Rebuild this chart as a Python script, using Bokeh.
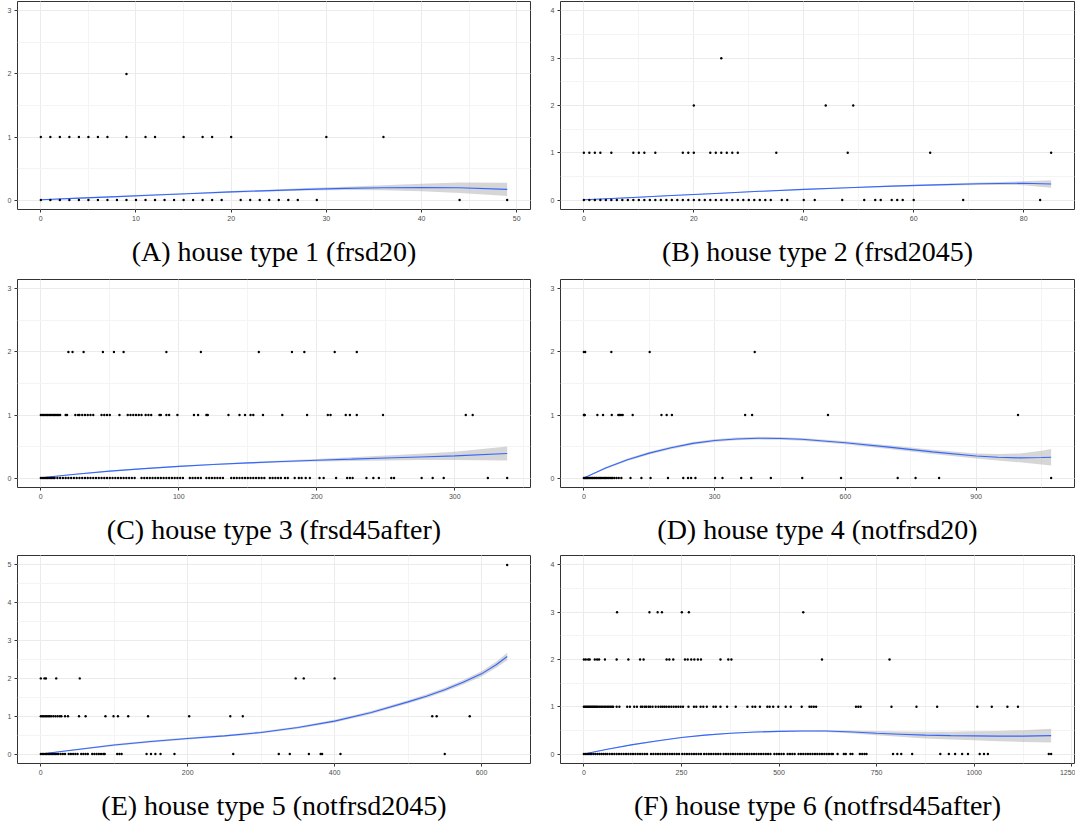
from bokeh.plotting import figure
from bokeh.models import Range1d, SingleIntervalTicker, Title
from bokeh.layouts import column, row
from bokeh.embed import file_html
from bokeh.resources import INLINE

# ---------------------------------------------------------------------------
# Observed counts: x positions of the observations at each integer count level
# ---------------------------------------------------------------------------

# (A) house type 1 (frsd20)
a_x_y0 = [0, 1, 2, 3, 4, 5, 6, 7, 8, 9, 10, 11, 12, 13, 14, 15, 16, 17, 18, 19,
          21, 22, 23, 24, 25, 26, 27, 29, 44, 49]
a_x_y1 = [0, 1, 2, 3, 4, 5, 6, 7, 9, 11, 12, 15, 17, 18, 20, 30, 36]
a_x_y2 = [9]
a_fit_x = [0, 4, 8, 12, 16, 20, 24, 28, 32, 36, 40, 44, 49]
a_fit_y = [0.005, 0.03, 0.055, 0.08, 0.105, 0.13, 0.15, 0.17, 0.185, 0.195, 0.2, 0.195, 0.17]
a_fit_lo = [0.0, 0.02, 0.045, 0.07, 0.094, 0.117, 0.136, 0.15, 0.158, 0.155, 0.14, 0.11, 0.065]
a_fit_hi = [0.01, 0.04, 0.065, 0.09, 0.116, 0.143, 0.164, 0.19, 0.212, 0.235, 0.26, 0.28, 0.275]

# (B) house type 2 (frsd2045)
b_x_y0 = [0, 1, 2, 3, 4, 5, 6, 7, 8, 9, 10, 11, 12, 13, 14, 15, 16, 17, 18, 19,
          20, 21, 22, 23, 24, 25, 26, 27, 28, 29, 30, 31, 32, 33, 34,
          36, 37, 40, 42, 47, 51, 53, 54, 56, 57, 58, 60, 69, 83]
b_x_y1 = [0, 1, 2, 3, 5, 9, 10, 11, 13, 18, 19, 20, 23, 24, 25, 26, 27, 28, 35, 48, 63, 85]
b_x_y2 = [20, 44, 49]
b_x_y3 = [25]
b_fit_x = [0, 8, 16, 24, 32, 40, 48, 56, 64, 72, 80, 85]
b_fit_y = [0.005, 0.05, 0.095, 0.14, 0.185, 0.225, 0.26, 0.295, 0.32, 0.345, 0.355, 0.34]
b_fit_lo = [0.0, 0.04, 0.085, 0.13, 0.175, 0.215, 0.248, 0.28, 0.302, 0.32, 0.315, 0.26]
b_fit_hi = [0.012, 0.06, 0.105, 0.15, 0.195, 0.235, 0.272, 0.31, 0.338, 0.37, 0.395, 0.42]

# (C) house type 3 (frsd45after)
c_x_y0 = [0, 1, 2, 3, 4, 5, 6, 7, 8, 9, 10, 12, 14, 16, 18, 20, 22, 24, 26, 28,
          30, 32, 34, 36, 38, 40, 42, 44, 46, 48, 50, 52, 54, 56, 58, 60, 62, 64,
          66, 68, 73, 75, 77, 79, 81, 83, 85, 87, 89, 91, 93, 95, 97, 99, 101, 103,
          108, 110, 112, 114, 116, 120, 122, 124, 126, 128, 130, 132, 138, 140, 142,
          144, 146, 148, 150, 152, 154, 156, 158, 160, 162, 166, 168, 170, 172, 174,
          177, 179, 184, 187, 189, 192, 195, 202, 205, 214, 222, 224, 226, 236, 241,
          245, 254, 256, 276, 284, 292, 324, 338]
c_x_y1 = [0, 1, 2, 3, 4, 5, 6, 7, 8, 9, 10, 11, 12, 13, 14, 18, 19, 25, 27, 28, 30,
          32, 34, 36, 38, 44, 46, 48, 50, 57, 63, 65, 67, 69, 71, 73, 76, 78, 80, 86,
          87, 91, 93, 99, 111, 114, 120, 121, 136, 144, 148, 152, 154, 161, 175, 193,
          208, 210, 221, 224, 229, 248, 308, 313]
c_x_y2 = [20, 23, 31, 45, 53, 60, 91, 116, 158, 182, 191, 213, 229]
c_fit_x = [0, 25, 50, 75, 100, 125, 150, 175, 200, 225, 250, 275, 300, 338]
c_fit_y = [0.005, 0.06, 0.11, 0.15, 0.185, 0.215, 0.24, 0.262, 0.283, 0.3, 0.318, 0.335, 0.352, 0.39]
c_fit_lo = [0.0, 0.052, 0.102, 0.142, 0.176, 0.205, 0.228, 0.247, 0.262, 0.272, 0.28, 0.285, 0.288, 0.28]
c_fit_hi = [0.01, 0.068, 0.118, 0.158, 0.194, 0.225, 0.252, 0.277, 0.304, 0.328, 0.356, 0.385, 0.416, 0.5]

# (D) house type 4 (notfrsd20)
d_x_y0 = [0, 2, 4, 6, 8, 10, 13, 15, 18, 20, 23, 25, 28, 30, 33, 36, 38, 41, 44, 47,
          50, 53, 56, 60, 63, 66, 70, 75, 80, 86, 107, 132, 153, 193, 228, 239, 246,
          256, 301, 318, 361, 384, 429, 501, 590, 720, 761, 815, 1072]
d_x_y1 = [0, 1, 2, 31, 44, 64, 79, 82, 85, 89, 112, 178, 190, 202, 370, 386, 560, 996]
d_x_y2 = [0, 3, 63, 151, 392]
d_fit_x = [0, 50, 100, 150, 200, 250, 300, 350, 400, 450, 500, 600, 700, 800, 900,
           950, 1000, 1050, 1072]
d_fit_y = [0.0, 0.16, 0.29, 0.395, 0.48, 0.55, 0.595, 0.62, 0.632, 0.628, 0.615, 0.56,
           0.49, 0.415, 0.35, 0.33, 0.32, 0.325, 0.33]
d_fit_lo = [0.0, 0.145, 0.27, 0.373, 0.458, 0.528, 0.573, 0.598, 0.61, 0.606, 0.593,
            0.535, 0.46, 0.38, 0.31, 0.28, 0.25, 0.215, 0.2]
d_fit_hi = [0.005, 0.175, 0.31, 0.417, 0.502, 0.572, 0.617, 0.642, 0.654, 0.65, 0.637,
            0.585, 0.52, 0.45, 0.39, 0.38, 0.39, 0.435, 0.46]

# (E) house type 5 (notfrsd2045)
e_x_y0 = [0, 2, 4, 6, 8, 10, 12, 14, 16, 18, 20, 22, 24, 27, 30, 33, 38, 41, 44, 47,
          50, 55, 58, 61, 64, 70, 73, 76, 79, 82, 85, 87, 104, 107, 110, 144, 150,
          156, 163, 182, 262, 324, 339, 365, 381, 383, 408, 550]
e_x_y1 = [0, 2, 4, 6, 8, 10, 12, 14, 17, 20, 23, 26, 28, 33, 37, 52, 61, 88, 99, 105,
          119, 146, 202, 258, 275, 533, 539, 584]
e_x_y2 = [0, 5, 7, 21, 53, 347, 358, 400]
e_x_y5 = [635]
e_fit_x = [0, 50, 100, 150, 200, 250, 300, 350, 400, 450, 500, 525, 550, 575, 600, 620, 635]
e_fit_y = [0.0, 0.12, 0.24, 0.33, 0.41, 0.48, 0.57, 0.7, 0.87, 1.1, 1.38, 1.53, 1.7,
           1.9, 2.12, 2.36, 2.58]
e_fit_lo = [0.0, 0.1, 0.215, 0.305, 0.385, 0.455, 0.54, 0.67, 0.835, 1.06, 1.335, 1.48,
            1.645, 1.84, 2.05, 2.28, 2.48]
e_fit_hi = [0.01, 0.14, 0.265, 0.355, 0.435, 0.505, 0.6, 0.73, 0.905, 1.14, 1.425, 1.58,
            1.755, 1.96, 2.19, 2.44, 2.68]

# (F) house type 6 (notfrsd45after)
f_x_y0 = [0, 4, 8, 12, 16, 20, 25, 30, 35, 40, 45, 50, 55, 60, 66, 72, 78, 84, 90, 96,
          102, 108, 114, 120, 126, 132, 138, 144, 150, 156, 162, 172, 178, 184, 190,
          196, 202, 208, 214, 220, 226, 232, 238, 244, 252, 258, 264, 270, 276, 282,
          288, 294, 300, 308, 314, 320, 326, 332, 338, 344, 350, 358, 364, 370, 376,
          382, 388, 394, 400, 406, 412, 418, 424, 430, 436, 442, 448, 454, 460, 466,
          472, 478, 488, 494, 500, 506, 512, 522, 528, 534, 540, 550, 556, 562, 568,
          574, 580, 586, 592, 598, 604, 610, 616, 622, 628, 634, 638, 650, 666, 671,
          683, 688, 707, 713, 719, 724, 792, 803, 813, 841, 913, 935, 951, 969, 984,
          1014, 1025, 1035, 1191, 1197]
f_x_y1 = [0, 3, 6, 9, 12, 15, 18, 21, 24, 27, 30, 33, 36, 40, 44, 48, 52, 56, 60, 64,
          68, 72, 75, 84, 91, 111, 118, 129, 136, 146, 150, 156, 160, 166, 170, 176,
          184, 191, 197, 202, 207, 212, 218, 224, 230, 236, 242, 248, 254, 268, 282,
          288, 299, 306, 315, 332, 338, 350, 367, 389, 419, 432, 439, 451, 470, 476,
          485, 498, 517, 530, 558, 578, 583, 589, 595, 697, 703, 709, 788, 852, 905,
          1008, 1045, 1085, 1112]
f_x_y2 = [0, 5, 11, 15, 28, 34, 39, 54, 84, 114, 144, 153, 212, 219, 229, 259, 266,
          275, 283, 292, 300, 350, 370, 378, 610, 783]
f_x_y3 = [85, 168, 189, 200, 251, 269, 562]
f_fit_x = [0, 60, 125, 190, 250, 310, 375, 440, 500, 560, 620, 690, 750, 810, 875,
           940, 1000, 1060, 1125, 1197]
f_fit_y = [0.0, 0.1, 0.2, 0.28, 0.35, 0.4, 0.44, 0.465, 0.48, 0.488, 0.486, 0.465,
           0.44, 0.42, 0.4, 0.39, 0.385, 0.38, 0.38, 0.39]
f_fit_lo = [0.0, 0.09, 0.188, 0.268, 0.338, 0.388, 0.428, 0.453, 0.467, 0.473, 0.466,
            0.435, 0.395, 0.365, 0.33, 0.31, 0.29, 0.27, 0.255, 0.245]
f_fit_hi = [0.005, 0.11, 0.212, 0.292, 0.362, 0.412, 0.452, 0.477, 0.493, 0.503, 0.506,
            0.495, 0.485, 0.475, 0.47, 0.47, 0.48, 0.49, 0.505, 0.535]

captions = [
    "(A) house type 1 (frsd20)",
    "(B) house type 2 (frsd2045)",
    "(C) house type 3 (frsd45after)",
    "(D) house type 4 (notfrsd20)",
    "(E) house type 5 (notfrsd2045)",
    "(F) house type 6 (notfrsd45after)",
]
y_tops = [3, 4, 3, 3, 5, 4]
x_steps = [10, 20, 100, 300, 200, 250]

panel_levels = [
    {0: a_x_y0, 1: a_x_y1, 2: a_x_y2},
    {0: b_x_y0, 1: b_x_y1, 2: b_x_y2, 3: b_x_y3},
    {0: c_x_y0, 1: c_x_y1, 2: c_x_y2},
    {0: d_x_y0, 1: d_x_y1, 2: d_x_y2},
    {0: e_x_y0, 1: e_x_y1, 2: e_x_y2, 5: e_x_y5},
    {0: f_x_y0, 1: f_x_y1, 2: f_x_y2, 3: f_x_y3},
]
panel_fits = [
    (a_fit_x, a_fit_y, a_fit_lo, a_fit_hi),
    (b_fit_x, b_fit_y, b_fit_lo, b_fit_hi),
    (c_fit_x, c_fit_y, c_fit_lo, c_fit_hi),
    (d_fit_x, d_fit_y, d_fit_lo, d_fit_hi),
    (e_fit_x, e_fit_y, e_fit_lo, e_fit_hi),
    (f_fit_x, f_fit_y, f_fit_lo, f_fit_hi),
]

GRID_MAJOR = "#EBEBEB"
GRID_MINOR = "#F4F4F4"
BORDER = "#333333"
TICK_TEXT = "#4D4D4D"
SMOOTH = "#3366FF"


def make_panel(i, left, right, frame_w, top, bottom):
    levels = panel_levels[i]
    xs, ys = [], []
    for level, vals in levels.items():
        xs.extend(vals)
        ys.extend([level] * len(vals))
    x_max = max(xs)
    pad = 0.05 * x_max
    y_top = y_tops[i]

    p = figure(frame_width=frame_w, frame_height=208,
               x_range=Range1d(-pad, x_max + pad),
               y_range=Range1d(-0.05 * y_top, 1.05 * y_top),
               output_backend="svg", toolbar_location=None,
               min_border_left=left, min_border_right=right,
               min_border_top=top, min_border_bottom=bottom,
               background_fill_color="white", border_fill_color="white")

    xt = SingleIntervalTicker(interval=x_steps[i], num_minor_ticks=2)
    yt = SingleIntervalTicker(interval=1, num_minor_ticks=2)
    p.xaxis.ticker = xt
    p.yaxis.ticker = yt
    p.xgrid.ticker = xt
    p.ygrid.ticker = yt

    for g in (p.xgrid, p.ygrid):
        g.grid_line_color = GRID_MAJOR
        g.grid_line_width = 1
        g.minor_grid_line_color = GRID_MINOR
        g.minor_grid_line_width = 1

    for ax in (p.xaxis, p.yaxis):
        ax.axis_line_color = None
        ax.minor_tick_line_color = None
        ax.major_tick_line_color = BORDER
        ax.major_tick_in = 0
        ax.major_tick_out = 3
        ax.major_label_standoff = 2
        ax.major_label_text_font = "Liberation Sans"
        ax.major_label_text_font_size = "7px"
        ax.major_label_text_color = TICK_TEXT

    p.outline_line_color = BORDER
    p.outline_line_width = 1

    fx, fy, flo, fhi = panel_fits[i]
    p.varea(x=fx, y1=flo, y2=fhi, fill_color="#999999", fill_alpha=0.4)
    p.line(x=fx, y=fy, line_color=SMOOTH, line_width=1.1)
    p.scatter(x=xs, y=ys, size=2.4, marker="circle",
              fill_color="black", line_color=None)

    cap = Title(text=captions[i], align="center", text_font="Liberation Serif",
                text_font_size="28px", text_font_style="normal",
                text_color="black", standoff=20)
    p.add_layout(cap, "below")
    return p


row_borders = [(1, 68), (2, 67), (1, 69)]
rows = []
for r, (top, bottom) in enumerate(row_borders):
    left_panel = make_panel(2 * r, 17, 15, 513, top, bottom)
    right_panel = make_panel(2 * r + 1, 15, 1, 514, top, bottom)
    rows.append(row(left_panel, right_panel))

layout = column(*rows)

open("out.html", "w").write(file_html(layout, INLINE))
